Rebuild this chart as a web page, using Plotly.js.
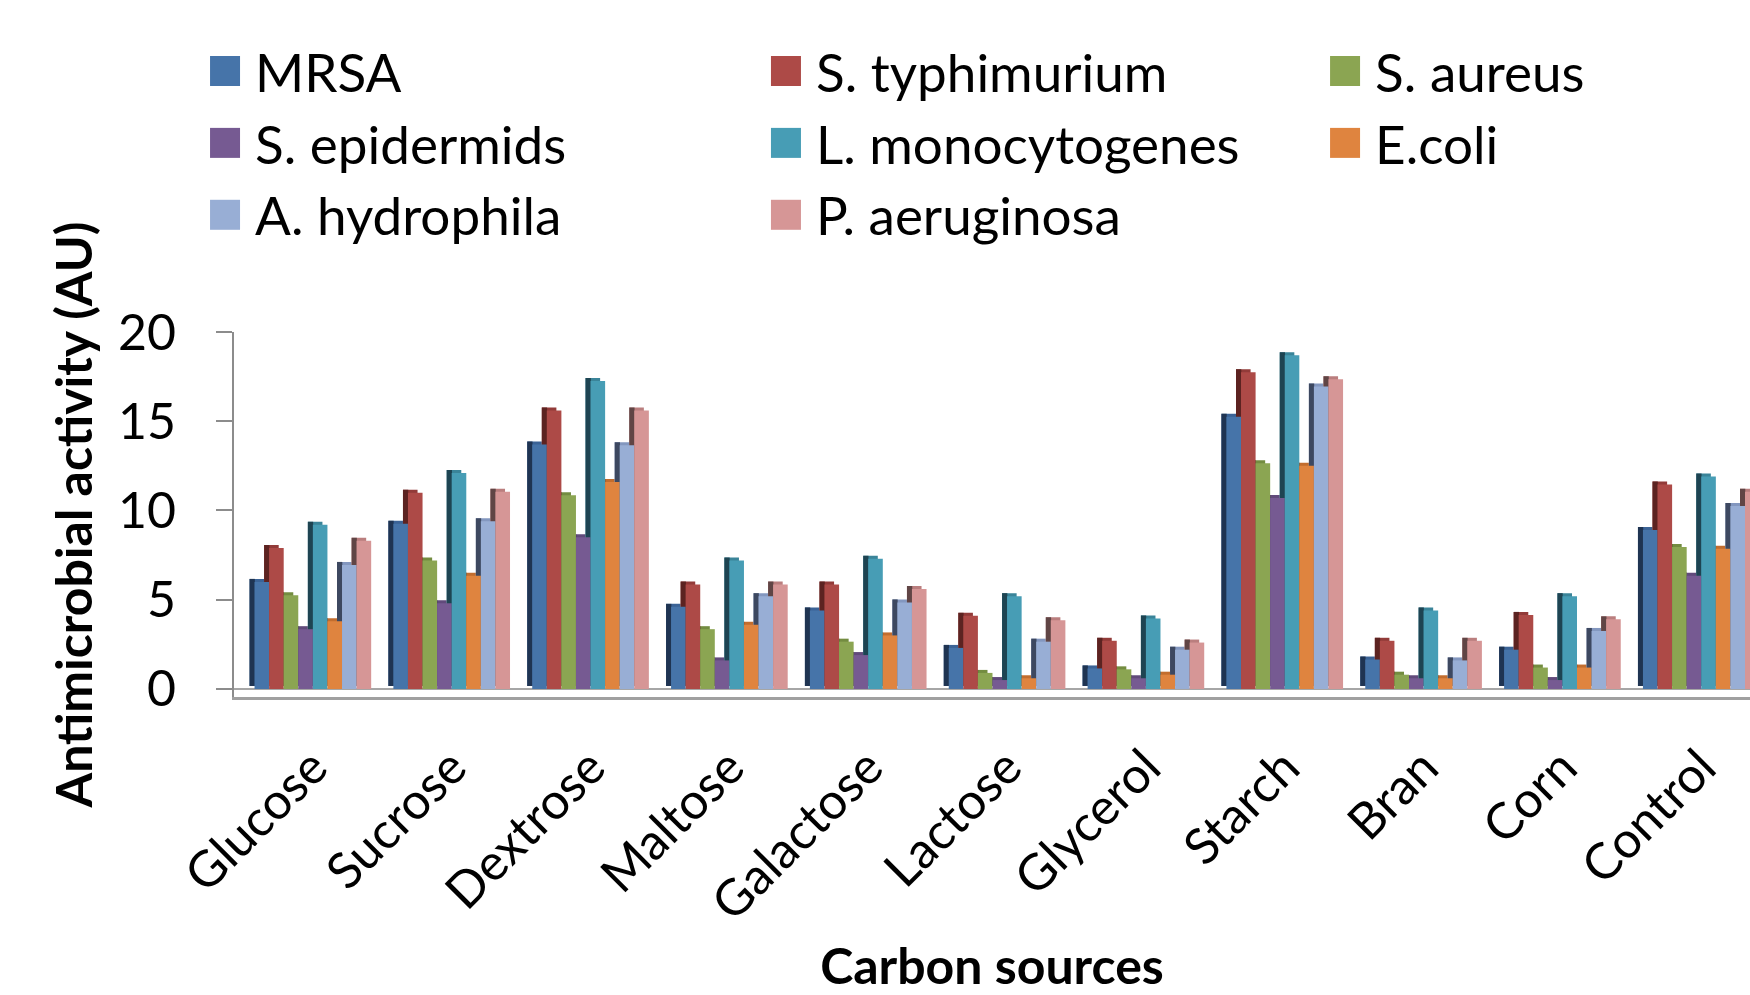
<!DOCTYPE html>
<html><head><meta charset="utf-8">
<script src="https://cdn.plot.ly/plotly-3.0.1.min.js"></script>
<style>html,body{margin:0;padding:0;background:#fff}#chart{width:1750px;height:995px}</style>
</head><body><div id="chart"></div>
<script>
// ---- data ----
const categories = ['Glucose','Sucrose','Dextrose','Maltose','Galactose','Lactose','Glycerol','Starch','Bran','Corn','Control'];
const seriesNames = ['MRSA','S. typhimurium','S. aureus','S. epidermids','L. monocytogenes','E.coli','A. hydrophila','P. aeruginosa'];
const mrsa           = [6.0, 9.25, 13.7, 4.6, 4.4, 2.3, 1.15, 15.25, 1.65, 2.2, 8.9];
const sTyphimurium   = [7.9, 11.0, 15.6, 5.85, 5.85, 4.1, 2.7, 17.75, 2.7, 4.15, 11.45];
const sAureus        = [5.25, 7.2, 10.85, 3.35, 2.65, 0.9, 1.1, 12.65, 0.8, 1.2, 7.95];
const sEpidermids    = [3.35, 4.8, 8.5, 1.6, 1.9, 0.5, 0.6, 10.7, 0.6, 0.5, 6.35];
const lMonocytogenes = [9.2, 12.1, 17.25, 7.2, 7.3, 5.2, 3.95, 18.7, 4.4, 5.2, 11.9];
const eColi          = [3.8, 6.35, 11.6, 3.6, 3.0, 0.6, 0.8, 12.5, 0.6, 1.2, 7.85];
const aHydrophila    = [6.95, 9.4, 13.65, 5.2, 4.85, 2.65, 2.2, 16.95, 1.6, 3.25, 10.25];
const pAeruginosa    = [8.3, 11.05, 15.6, 5.85, 5.6, 3.85, 2.6, 17.35, 2.7, 3.9, 11.05];
const seriesValues = [mrsa, sTyphimurium, sAureus, sEpidermids, lMonocytogenes, eColi, aHydrophila, pAeruginosa];
const yTickVals = [0, 5, 10, 15, 20];
const yTickText = ['0', '5', '10', '15', '20'];

// ---- styles ----
const frontColors = ['#4674A9','#AD4A47','#8BA552','#765A92','#479DB5','#DF843F','#98AED5','#D69696'];
const capColors   = ['#3B6396','#923B39','#738C40','#614A7B','#3A8499','#C26D2E','#8397BF','#BA7E7E'];
const sideColors  = ['#1F3452','#5C2321','#4A5C2A','#3E2E52','#1E4452','#7C4420','#3D4860','#604545'];
const legendIds   = ['legend','legend2','legend3','legend','legend2','legend3','legend','legend2'];
const FONT = 'Lato, "Open Sans", "Noto Sans", sans-serif';
const groupWidth = 0.84;
const barW = groupWidth / seriesNames.length;
const depthX = 0.036;   // 3D depth, horizontal (category units)
const depthY = 0.168;   // 3D depth, vertical (value units)

const capTraces = [], sideTraces = [], frontTraces = [];
seriesNames.forEach((name, k) => {
  const off = -groupWidth / 2 + k * barW;
  const vals = seriesValues[k];
  capTraces.push({type:'bar', x:categories, y:vals, base:depthY, offset:off - depthX, width:barW,
    marker:{color:capColors[k], line:{width:0}}, showlegend:false, hoverinfo:'skip'});
  sideTraces.push({type:'bar', x:categories, y:vals, base:depthY, offset:off - depthX, width:depthX + 0.002,
    marker:{color:sideColors[k], line:{width:0}}, showlegend:false, hoverinfo:'skip'});
  frontTraces.push({type:'bar', name:name, x:categories, y:vals, offset:off, width:barW,
    marker:{color:frontColors[k], line:{width:0}}, legend:legendIds[k]});
});
const traces = capTraces.concat(sideTraces, frontTraces);

const legendBase = {xanchor:'left', yanchor:'top', y:1.8273, orientation:'v', itemwidth:50,
  font:{family:FONT, size:53, color:'#000'}, bgcolor:'rgba(0,0,0,0)', borderwidth:0, tracegroupgap:0};

const layout = {
  width:1750, height:995,
  margin:{l:234, r:0, t:332, b:298, autoexpand:false},
  paper_bgcolor:'#fff', plot_bgcolor:'rgba(0,0,0,0)',
  barmode:'overlay',
  font:{family:FONT, color:'#000'},
  legend: Object.assign({}, legendBase, {x:-0.0257}),
  legend2: Object.assign({}, legendBase, {x:0.3443}),
  legend3: Object.assign({}, legendBase, {x:0.7131}),
  xaxis:{type:'category', range:[-0.568, 10.351], tickangle:-45, ticks:'', showgrid:false,
    showline:true, linecolor:'#A0A0A0', linewidth:3, zeroline:false,
    tickfont:{family:FONT, size:50, color:'#000'}, ticklabelstandoff:18, automargin:false,
    title:{text:'Carbon sources', font:{family:FONT, size:50, weight:'bold', color:'#000'}, standoff:76}},
  yaxis:{range:[-0.45, 20], tickvals:yTickVals, ticktext:yTickText, ticks:'outside', ticklen:16, tickwidth:2,
    tickcolor:'#8C8C8C', showline:true, linecolor:'#8C8C8C', linewidth:2, showgrid:false,
    zeroline:true, zerolinecolor:'#A6A6A6', zerolinewidth:2,
    tickfont:{family:FONT, size:50, color:'#000'}, ticklabelstandoff:30, automargin:false,
    title:{text:'Antimicrobial activity (AU)', font:{family:FONT, size:50, weight:'bold', color:'#000'}, standoff:9}}
};

function enlargeLegendSymbols(gd) {
  gd.querySelectorAll('g.legendpoints path').forEach(p => {
    p.setAttribute('d', 'M15,15H-15V-15H15Z');
  });
}
Plotly.newPlot('chart', traces, layout, {staticPlot:true, displayModeBar:false}).then(gd => {
  enlargeLegendSymbols(gd);
  setTimeout(() => enlargeLegendSymbols(gd), 50);
});
</script></body></html>
